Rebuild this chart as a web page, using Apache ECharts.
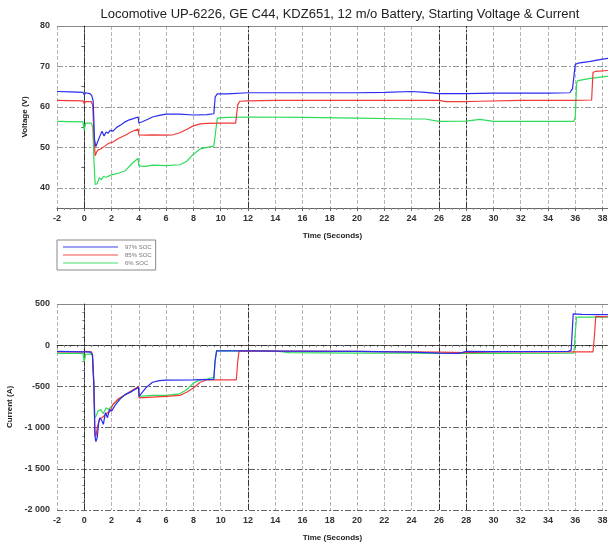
<!DOCTYPE html>
<html>
<head>
<meta charset="utf-8">
<script src="https://cdn.jsdelivr.net/npm/echarts@6/dist/echarts.min.js"></script>
<style>
  html, body { margin: 0; padding: 0; background: #fff; }
  #chart { width: 608px; height: 548px; }
</style>
</head>
<body>
<div id="chart"></div>
<script>
// Series names
const seriesNames = ['97% SOC', '85% SOC', '6% SOC'];
const seriesColors = ['#2b2bf0', '#f03a3a', '#2fdc5a'];

// Voltage, 97% SOC
const voltT97 = [-2, -1, -0.1, 0, 0.1, 0.4, 0.55, 0.65, 0.75, 0.85, 0.95, 1.05, 1.2, 1.3, 1.45, 1.6, 1.75, 1.9, 2.1, 2.4, 2.7, 3.0, 3.3, 3.6, 3.95, 4.0, 4.3, 4.7, 5.0, 5.5, 6, 7, 8, 9, 9.5, 9.6, 9.75, 10.5, 12, 14, 16, 18, 20, 22, 24, 25, 26, 28, 30, 32, 34, 35.6, 35.8, 36, 36.2, 37, 38, 38.4];
const voltV97 = [63.8, 63.7, 63.6, 63.0, 63.5, 63.3, 62.8, 61.5, 52, 50.2, 50.5, 52, 53.2, 54, 52.8, 53.8, 53.5, 54.2, 54, 55, 55.6, 56.3, 56.8, 57.1, 57.5, 56.0, 56.4, 57.0, 57.5, 57.9, 58.2, 58.2, 58.0, 58.1, 58.3, 62.5, 63.2, 63.2, 63.5, 63.5, 63.5, 63.5, 63.5, 63.6, 63.8, 63.6, 63.3, 63.3, 63.4, 63.4, 63.4, 63.5, 64.5, 70.5, 70.8, 71.2, 71.8, 72.0];

// Voltage, 85% SOC
const voltT85 = [-2, -0.1, 0, 0.1, 0.5, 0.62, 0.72, 0.8, 0.9, 1.0, 1.2, 1.5, 1.8, 2.1, 2.5, 3.0, 3.5, 3.95, 4.0, 4.5, 5, 6, 6.5, 7, 7.5, 8, 8.5, 9, 10, 11.1, 11.25, 11.4, 12, 14, 20, 26, 26.5, 28, 29, 29.1, 32, 36, 37.2, 37.3, 37.5, 38.4];
const voltV85 = [61.6, 61.5, 60.8, 61.3, 61.3, 60.5, 52, 47.9, 48.8, 49.3, 49.6, 50.3, 51, 51.3, 52.2, 53, 53.9, 54.5, 53.1, 53.0, 53.1, 53.0, 53.1, 53.6, 54.4, 55.3, 55.8, 55.9, 56.0, 56.0, 60.5, 61.4, 61.5, 61.6, 61.6, 61.6, 61.3, 61.3, 61.4, 61.6, 61.6, 61.6, 61.7, 68.5, 68.8, 69.0];

// Voltage, 6% SOC
const voltT6 = [-2, -0.1, 0, 0.1, 0.5, 0.62, 0.72, 0.8, 0.95, 1.1, 1.25, 1.4, 1.6, 2.0, 2.5, 3.0, 3.5, 3.95, 4.0, 4.5, 5, 6, 7, 7.5, 8, 8.5, 9, 9.5, 9.6, 9.75, 10.5, 12, 16, 20, 24, 25, 26, 28, 29, 30, 34, 35.9, 36.0, 36.1, 36.2, 37, 38.4];
const voltV6 = [56.4, 56.3, 54.2, 56.0, 56.0, 55.0, 46, 40.8, 41.0, 42.5, 42.0, 42.8, 42.6, 43.2, 43.6, 44.2, 46.0, 47.3, 45.4, 45.3, 45.6, 45.5, 45.7, 46.5, 48.3, 49.6, 50.0, 50.3, 53, 57.2, 57.4, 57.5, 57.4, 57.2, 57.0, 57.0, 56.4, 56.5, 56.9, 56.4, 56.4, 56.4, 57.5, 66.0, 66.5, 67.0, 67.6];

// Current, 97% SOC
const currT97 = [-2, -0.1, 0, 0.1, 0.5, 0.6, 0.7, 0.78, 0.85, 0.95, 1.05, 1.15, 1.3, 1.4, 1.55, 1.7, 1.85, 2.0, 2.3, 2.7, 3.0, 3.5, 3.98, 4.02, 4.5, 5.0, 5.5, 6, 8, 9.5, 9.58, 9.7, 12, 14, 20, 24, 26, 27.5, 28, 30, 35.5, 35.7, 35.85, 36.5, 38.4];
const currI97 = [-75, -80, -90, -80, -85, -120, -500, -1100, -1170, -1120, -950, -880, -920, -960, -820, -880, -780, -800, -720, -640, -600, -560, -510, -620, -520, -450, -430, -425, -420, -415, -200, -70, -70, -72, -75, -85, -95, -100, -75, -78, -75, -60, 380, 375, 370];

// Current, 85% SOC
const currT85 = [-2, -0.1, 0.1, 0.5, 0.6, 0.7, 0.78, 0.85, 0.95, 1.1, 1.3, 1.5, 1.7, 1.9, 2.1, 2.5, 3.0, 3.5, 3.98, 4.02, 5, 6, 7, 7.5, 8, 8.5, 9, 11.15, 11.25, 11.35, 14, 20, 26, 28, 30, 37.3, 37.4, 37.5, 38.4];
const currI85 = [-80, -80, -75, -80, -110, -450, -1050, -1110, -1000, -900, -880, -850, -820, -800, -720, -650, -600, -550, -500, -640, -630, -620, -610, -570, -520, -450, -420, -420, -200, -70, -72, -75, -85, -90, -80, -80, 100, 350, 345];

// Current, 6% SOC
const currT6 = [-2, -0.1, 0, 0.1, 0.5, 0.6, 0.7, 0.78, 0.9, 1.0, 1.2, 1.4, 1.6, 1.8, 2.0, 2.5, 3.0, 3.5, 3.98, 4.02, 5, 6, 7, 7.5, 8, 8.5, 9, 9.5, 9.6, 9.7, 14, 15, 20, 24, 26, 30, 35.9, 36.0, 36.1, 37, 38.4];
const currI6 = [-100, -100, -200, -110, -105, -130, -450, -880, -850, -800, -780, -830, -760, -780, -740, -660, -600, -550, -520, -620, -610, -610, -590, -540, -460, -420, -410, -390, -200, -65, -70, -90, -95, -95, -100, -100, -95, 150, 340, 340, 340];

// Axis settings
const timeMin = -2, timeMax = 38.4, timeStep = 2;
const voltMin = 35, voltMax = 80, voltGridValues = [40, 50, 60, 70];
const currMin = -2000, currMax = 500, currStep = 500;
const darkTimeLines = [0, 12, 26, 28];

function pairs(t, v) { return t.map((x, i) => [x, v[i]]); }

const labelFont = { fontFamily: 'Liberation Sans', fontSize: 9, fontWeight: 'bold', color: '#333' };
const nameFont = { fontFamily: 'Liberation Sans', fontSize: 8, fontWeight: 'bold', color: '#222' };

function timeAxis(gridIndex) {
  return {
    type: 'value', gridIndex, min: timeMin, max: timeMax, interval: timeStep,
    name: 'Time (Seconds)', nameLocation: 'middle', nameGap: 24, nameTextStyle: nameFont,
    axisLine: { show: true, lineStyle: { color: '#666', width: 1 } },
    axisTick: { show: true, length: 3, lineStyle: { color: '#666' } },
    minorTick: { show: true, splitNumber: 4, length: 2, lineStyle: { color: '#888' } },
    axisLabel: Object.assign({ margin: 6, formatter: v => (Number.isInteger(v) ? String(v) : '') }, labelFont),
    splitLine: { show: true, lineStyle: { color: '#b5b5b5', type: [4, 2], width: 1 } }
  };
}

const lightGridStyle = { color: '#999', type: [6, 2, 2, 2], width: 1 };
const gridLineStyle = { color: '#666', type: [6, 2, 2, 2], width: 1 };
const darkLineStyle = { color: '#333', type: [6, 2, 2, 2], width: 1 };
const borderStyle = { color: '#888', type: 'solid', width: 1 };

const seriesList = [];
const voltData = [pairs(voltT97, voltV97), pairs(voltT85, voltV85), pairs(voltT6, voltV6)];
const currData = [pairs(currT97, currI97), pairs(currT85, currI85), pairs(currT6, currI6)];

voltData.forEach((d, i) => {
  const s = {
    name: seriesNames[i], type: 'line', xAxisIndex: 0, yAxisIndex: 0, data: d,
    showSymbol: false, symbol: 'none', lineStyle: { color: seriesColors[i], width: 1.2 },
    itemStyle: { color: seriesColors[i] }, z: 5 - i
  };
  if (i === 0) {
    s.markLine = {
      silent: true, symbol: 'none', label: { show: false }, z: 1,
      data: voltGridValues.map(v => ({ yAxis: v, lineStyle: lightGridStyle }))
        .concat([{ yAxis: voltMax, lineStyle: borderStyle }])
        .concat(darkTimeLines.map(t => ({ xAxis: t, lineStyle: darkLineStyle })))
    };
  }
  seriesList.push(s);
});

currData.forEach((d, i) => {
  const s = {
    name: seriesNames[i], type: 'line', xAxisIndex: 1, yAxisIndex: 1, data: d,
    showSymbol: false, symbol: 'none', lineStyle: { color: seriesColors[i], width: 1.2 },
    itemStyle: { color: seriesColors[i] }, z: 5 - i
  };
  if (i === 0) {
    s.markLine = {
      silent: true, symbol: 'none', label: { show: false }, z: 1,
      data: [{ yAxis: 0, lineStyle: darkLineStyle }, { yAxis: currMax, lineStyle: borderStyle }]
        .concat(darkTimeLines.map(t => ({ xAxis: t, lineStyle: darkLineStyle })))
    };
  }
  seriesList.push(s);
});

const chart = echarts.init(document.getElementById('chart'), null, { renderer: 'canvas' });
chart.setOption({
  animation: false,
  backgroundColor: '#fff',
  title: {
    text: 'Locomotive UP-6226, GE C44, KDZ651, 12 m/o Battery, Starting Voltage & Current',
    left: 335, textAlign: 'center', top: 3,
    textStyle: { fontFamily: 'Liberation Sans', fontSize: 13, fontWeight: 'normal', color: '#222' }
  },
  legend: {
    orient: 'vertical', left: 57, top: 240, padding: [4, 4, 4, 6], itemGap: 2,
    itemWidth: 55, itemHeight: 2, icon: 'rect',
    borderColor: '#888', borderWidth: 1,
    textStyle: { fontFamily: 'Liberation Sans', fontSize: 6, color: '#777', padding: [0, 0, 0, 2] },
    data: seriesNames.map((n, i) => ({ name: n, itemStyle: { color: seriesColors[i], opacity: 0.45 } }))
  },
  grid: [
    { left: 57, top: 26, right: 0, height: 182, containLabel: false, outerBoundsMode: 'none' },
    { left: 57, top: 304, right: 0, height: 206, containLabel: false, outerBoundsMode: 'none' }
  ],
  xAxis: [timeAxis(0), timeAxis(1)],
  yAxis: [
    {
      type: 'value', gridIndex: 0, min: voltMin, max: voltMax, interval: 5,
      name: 'Voltage (V)', nameLocation: 'middle', nameGap: 27, nameTextStyle: nameFont,
      axisLine: { show: true, lineStyle: { color: '#666' } },
      axisTick: { show: true, length: 3, lineStyle: { color: '#666' } },
      axisLabel: Object.assign({ margin: 7, formatter: v => (v % 10 === 0 ? String(v) : '') }, labelFont),
      splitLine: { show: false }
    },
    {
      type: 'value', gridIndex: 1, min: currMin, max: currMax, interval: currStep,
      name: 'Current (A)', nameLocation: 'middle', nameGap: 42, nameTextStyle: nameFont,
      axisLine: { show: true, lineStyle: { color: '#666' } },
      axisTick: { show: true, length: 3, lineStyle: { color: '#666' } },
      minorTick: { show: true, splitNumber: 5, length: 2, lineStyle: { color: '#888' } },
      axisLabel: Object.assign({
        margin: 7,
        formatter: v => {
          const a = Math.abs(v);
          const s = a >= 1000 ? Math.floor(a / 1000) + ' ' + String(a % 1000).padStart(3, '0') : String(a);
          return (v < 0 ? '-' : '') + s;
        }
      }, labelFont),
      splitLine: { show: true, lineStyle: gridLineStyle }
    }
  ],
  series: seriesList
});
</script>
</body>
</html>
